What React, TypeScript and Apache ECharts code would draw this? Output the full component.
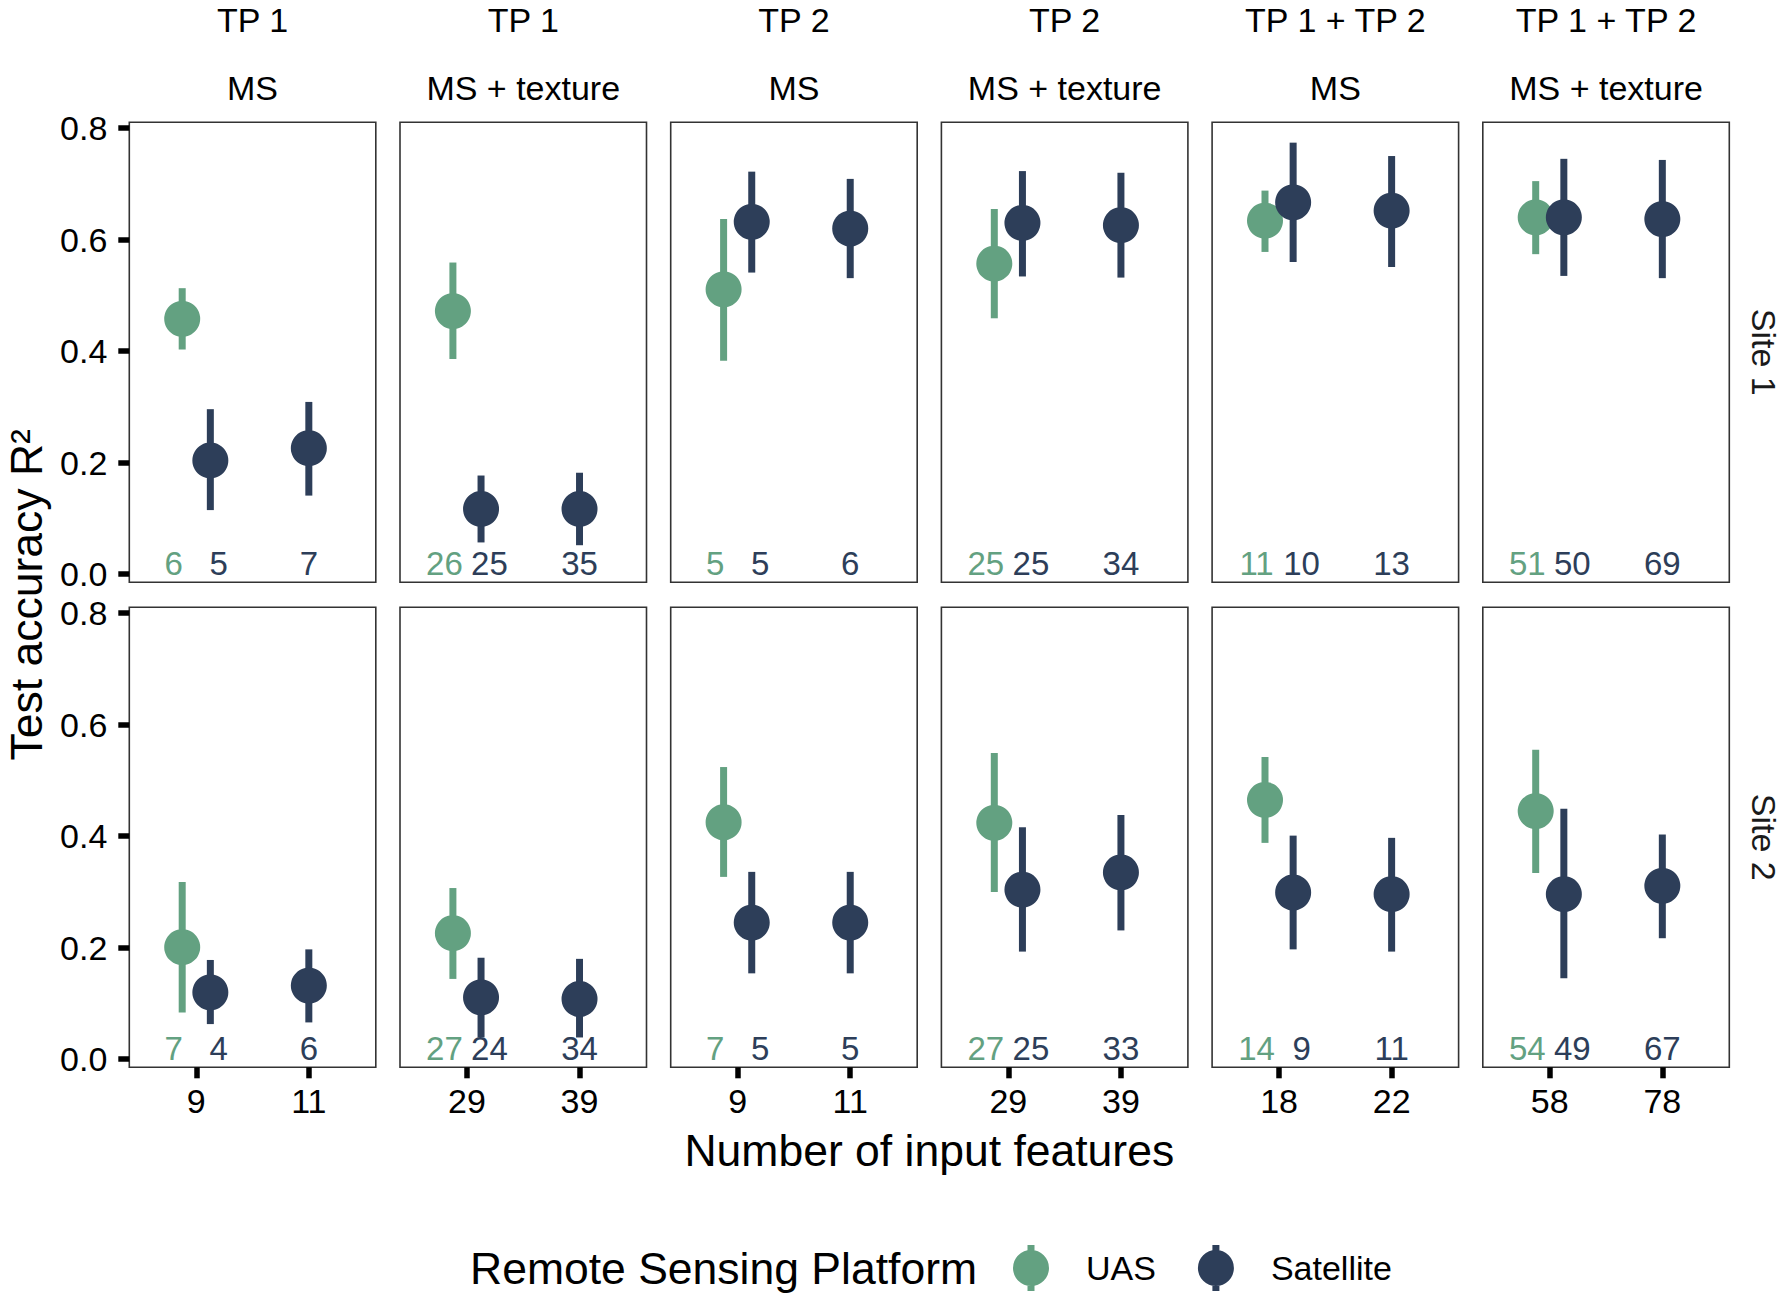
import React, { useEffect, useRef } from "react";
import * as echarts from "echarts";

// ---------------- data ----------------
const stripTop = ["TP 1", "TP 1", "TP 2", "TP 2", "TP 1 + TP 2", "TP 1 + TP 2"];
const stripBottom = ["MS", "MS + texture", "MS", "MS + texture", "MS", "MS + texture"];
const siteNames = ["Site 1", "Site 2"];
// x tick values (number of input features) per column
const tickA = [9, 29, 9, 29, 18, 58];
const tickB = [11, 39, 11, 39, 22, 78];
const yTicks = [0, 0.2, 0.4, 0.6, 0.8];

// Site 1
const uasMean1 = [0.458, 0.472, 0.511, 0.557, 0.634, 0.64];
const uasLow1 = [0.403, 0.386, 0.383, 0.459, 0.578, 0.574];
const uasHigh1 = [0.513, 0.559, 0.637, 0.655, 0.688, 0.705];
const satAMean1 = [0.204, 0.117, 0.632, 0.63, 0.667, 0.64];
const satALow1 = [0.115, 0.057, 0.541, 0.534, 0.56, 0.535];
const satAHigh1 = [0.296, 0.177, 0.722, 0.723, 0.774, 0.745];
const satBMean1 = [0.226, 0.117, 0.62, 0.626, 0.652, 0.637];
const satBLow1 = [0.141, 0.052, 0.531, 0.532, 0.551, 0.531];
const satBHigh1 = [0.309, 0.182, 0.709, 0.72, 0.75, 0.743];
const uasN1 = [6, 26, 5, 25, 11, 51];
const satAN1 = [5, 25, 5, 25, 10, 50];
const satBN1 = [7, 35, 6, 34, 13, 69];

// Site 2
const uasMean2 = [0.201, 0.226, 0.425, 0.424, 0.465, 0.445];
const uasLow2 = [0.084, 0.144, 0.327, 0.3, 0.388, 0.334];
const uasHigh2 = [0.318, 0.307, 0.524, 0.549, 0.542, 0.555];
const satAMean2 = [0.12, 0.111, 0.245, 0.304, 0.299, 0.296];
const satALow2 = [0.063, 0.039, 0.154, 0.193, 0.197, 0.145];
const satAHigh2 = [0.178, 0.182, 0.336, 0.416, 0.401, 0.449];
const satBMean2 = [0.132, 0.108, 0.245, 0.335, 0.296, 0.311];
const satBLow2 = [0.066, 0.039, 0.154, 0.231, 0.193, 0.217];
const satBHigh2 = [0.197, 0.18, 0.336, 0.438, 0.397, 0.403];
const uasN2 = [7, 27, 7, 27, 14, 54];
const satAN2 = [4, 24, 5, 25, 9, 49];
const satBN2 = [6, 34, 5, 33, 11, 67];

const sites = [
  {
    uasMean: uasMean1, uasLow: uasLow1, uasHigh: uasHigh1,
    satAMean: satAMean1, satALow: satALow1, satAHigh: satAHigh1,
    satBMean: satBMean1, satBLow: satBLow1, satBHigh: satBHigh1,
    uasN: uasN1, satAN: satAN1, satBN: satBN1,
  },
  {
    uasMean: uasMean2, uasLow: uasLow2, uasHigh: uasHigh2,
    satAMean: satAMean2, satALow: satALow2, satAHigh: satAHigh2,
    satBMean: satBMean2, satBLow: satBLow2, satBHigh: satBHigh2,
    uasN: uasN2, satAN: satAN2, satBN: satBN2,
  },
];

// ---------------- style / layout ----------------
const UAS_COLOR = "#63a181";
const SAT_COLOR = "#2d3e59";
const FONT = "'Liberation Sans', Arial, Helvetica, sans-serif";
const W = 1784;
const H = 1300;
const PANEL_LEFT = 129.3;
const PANEL_W = 246.5;
const PANEL_PITCH = 270.7;
const ROW_TOP = [122.3, 607.3];
const PANEL_H = 460;
const Y_MIN = -0.0145;
const Y_MAX = 0.8105;
const X_PAD = 0.595;
const DODGE_PT = 0.125;
const DODGE_LABEL = 0.2;
const LABEL_Y = 0.0185;
const SMALL = 34;
const BIG = 44.5;

const LEGEND_ICON =
  "path://M14.5,0H21.5V46H14.5Z M0,23A18,18 0 1,1 36,23A18,18 0 1,1 0,23Z";

function rangeRender(color: string) {
  return (params: any, api: any) => {
    const x = api.value(0);
    const p1 = api.coord([x, api.value(1)]);
    const p2 = api.coord([x, api.value(2)]);
    return {
      type: "line",
      shape: { x1: p1[0], y1: p1[1], x2: p2[0], y2: p2[1] },
      style: { stroke: color, lineWidth: 7, lineCap: "butt" },
    };
  };
}

function buildOption() {
  const grid: any[] = [];
  const xAxis: any[] = [];
  const yAxis: any[] = [];
  const series: any[] = [];
  const graphic: any[] = [];

  for (let r = 0; r < 2; r++) {
    const s = sites[r];
    for (let c = 0; c < 6; c++) {
      const k = r * 6 + c;
      const a = tickA[c];
      const b = tickB[c];
      const d = b - a;
      grid.push({
        left: PANEL_LEFT + c * PANEL_PITCH,
        top: ROW_TOP[r],
        width: PANEL_W,
        height: PANEL_H,
        show: true,
        borderColor: "#333333",
        borderWidth: 1.6,
        backgroundColor: "transparent",
        containLabel: false,
        outerBoundsMode: "none",
      });
      xAxis.push({
        type: "value",
        gridIndex: k,
        position: "bottom",
        min: a - X_PAD * d,
        max: b + X_PAD * d,
        axisLine: { show: false, onZero: false },
        splitLine: { show: false },
        axisTick: {
          show: r === 1,
          customValues: [a, b],
          length: 11,
          lineStyle: { width: 5.5, color: "#000" },
        },
        axisLabel: {
          show: r === 1,
          customValues: [a, b],
          margin: 17,
          fontSize: SMALL,
          fontFamily: FONT,
          color: "#000",
        },
      });
      yAxis.push({
        type: "value",
        gridIndex: k,
        position: "left",
        min: Y_MIN,
        max: Y_MAX,
        axisLine: { show: false, onZero: false },
        splitLine: { show: false },
        axisTick: {
          show: c === 0,
          customValues: yTicks,
          length: 11,
          lineStyle: { width: 5.5, color: "#000" },
        },
        axisLabel: {
          show: c === 0,
          customValues: yTicks,
          margin: 22,
          fontSize: SMALL,
          fontFamily: FONT,
          color: "#000",
          formatter: (v: number) => v.toFixed(1),
        },
      });

      const xU = a - DODGE_PT * d;
      const xS = a + DODGE_PT * d;

      series.push({
        type: "custom",
        name: "UAS range",
        xAxisIndex: k,
        yAxisIndex: k,
        z: 2,
        silent: true,
        renderItem: rangeRender(UAS_COLOR),
        encode: { x: 0, y: [1, 2] },
        data: [[xU, s.uasLow[c], s.uasHigh[c]]],
      });
      series.push({
        type: "scatter",
        name: "UAS",
        xAxisIndex: k,
        yAxisIndex: k,
        z: 3,
        silent: true,
        symbol: "circle",
        symbolSize: 36,
        itemStyle: { color: UAS_COLOR, opacity: 1 },
        data: [[xU, s.uasMean[c]]],
      });
      series.push({
        type: "custom",
        name: "Satellite range",
        xAxisIndex: k,
        yAxisIndex: k,
        z: 4,
        silent: true,
        renderItem: rangeRender(SAT_COLOR),
        encode: { x: 0, y: [1, 2] },
        data: [
          [xS, s.satALow[c], s.satAHigh[c]],
          [b, s.satBLow[c], s.satBHigh[c]],
        ],
      });
      series.push({
        type: "scatter",
        name: "Satellite",
        xAxisIndex: k,
        yAxisIndex: k,
        z: 5,
        silent: true,
        symbol: "circle",
        symbolSize: 36,
        itemStyle: { color: SAT_COLOR, opacity: 1 },
        data: [
          [xS, s.satAMean[c]],
          [b, s.satBMean[c]],
        ],
      });
      series.push({
        type: "scatter",
        name: "counts",
        xAxisIndex: k,
        yAxisIndex: k,
        z: 6,
        silent: true,
        symbolSize: 1,
        itemStyle: { color: "rgba(255,255,255,0)", opacity: 1 },
        label: {
          show: true,
          position: "inside",
          fontSize: 33,
          fontFamily: FONT,
          textBorderWidth: 0,
          opacity: 1,
          formatter: (p: any) => String(p.value[2]),
        },
        data: [
          { value: [a - DODGE_LABEL * d, LABEL_Y, s.uasN[c]], label: { color: UAS_COLOR } },
          { value: [a + DODGE_LABEL * d, LABEL_Y, s.satAN[c]], label: { color: SAT_COLOR } },
          { value: [b, LABEL_Y, s.satBN[c]], label: { color: SAT_COLOR } },
        ],
      });
    }
  }

  // strip labels (top)
  for (let c = 0; c < 6; c++) {
    const cx = PANEL_LEFT + c * PANEL_PITCH + PANEL_W / 2;
    graphic.push({
      type: "text",
      x: cx,
      y: 20,
      style: {
        text: stripTop[c],
        fontSize: SMALL,
        fontFamily: FONT,
        fill: "#000",
        align: "center",
        verticalAlign: "middle",
      },
    });
    graphic.push({
      type: "text",
      x: cx,
      y: 88,
      style: {
        text: stripBottom[c],
        fontSize: SMALL,
        fontFamily: FONT,
        fill: "#000",
        align: "center",
        verticalAlign: "middle",
      },
    });
  }
  // strip labels (right)
  for (let r = 0; r < 2; r++) {
    graphic.push({
      type: "text",
      x: 1764,
      y: ROW_TOP[r] + PANEL_H / 2,
      rotation: -Math.PI / 2,
      style: {
        text: siteNames[r],
        fontSize: SMALL,
        fontFamily: FONT,
        fill: "#1a1a1a",
        align: "center",
        verticalAlign: "middle",
      },
    });
  }
  // axis titles
  graphic.push({
    type: "text",
    x: 26,
    y: (ROW_TOP[0] + ROW_TOP[1] + PANEL_H) / 2,
    rotation: Math.PI / 2,
    style: {
      text: "Test accuracy R²",
      fontSize: BIG,
      fontFamily: FONT,
      fill: "#000",
      align: "center",
      verticalAlign: "middle",
    },
  });
  graphic.push({
    type: "text",
    x: PANEL_LEFT + (5 * PANEL_PITCH + PANEL_W) / 2,
    y: 1150,
    style: {
      text: "Number of input features",
      fontSize: BIG,
      fontFamily: FONT,
      fill: "#000",
      align: "center",
      verticalAlign: "middle",
    },
  });
  graphic.push({
    type: "text",
    x: 470,
    y: 1268,
    style: {
      text: "Remote Sensing Platform",
      fontSize: BIG,
      fontFamily: FONT,
      fill: "#000",
      align: "left",
      verticalAlign: "middle",
    },
  });

  return {
    animation: false,
    backgroundColor: "#ffffff",
    grid,
    xAxis,
    yAxis,
    series,
    graphic,
    legend: {
      data: [
        { name: "UAS", icon: LEGEND_ICON },
        { name: "Satellite", icon: LEGEND_ICON },
      ],
      orient: "horizontal",
      left: 1013,
      top: 1245,
      padding: 0,
      itemWidth: 36,
      itemHeight: 46,
      itemGap: 42,
      selectedMode: false,
      textStyle: {
        fontSize: SMALL,
        fontFamily: FONT,
        color: "#000",
        padding: [0, 0, 0, 32],
      },
    },
  };
}

export default function App() {
  const ref = useRef<HTMLDivElement>(null);
  useEffect(() => {
    document.body.style.margin = "0";
    if (!ref.current) return;
    const chart = echarts.init(ref.current, undefined, { renderer: "svg" });
    chart.setOption(buildOption() as any);
    return () => {
      chart.dispose();
    };
  }, []);
  return <div ref={ref} style={{ width: W, height: H }} />;
}
